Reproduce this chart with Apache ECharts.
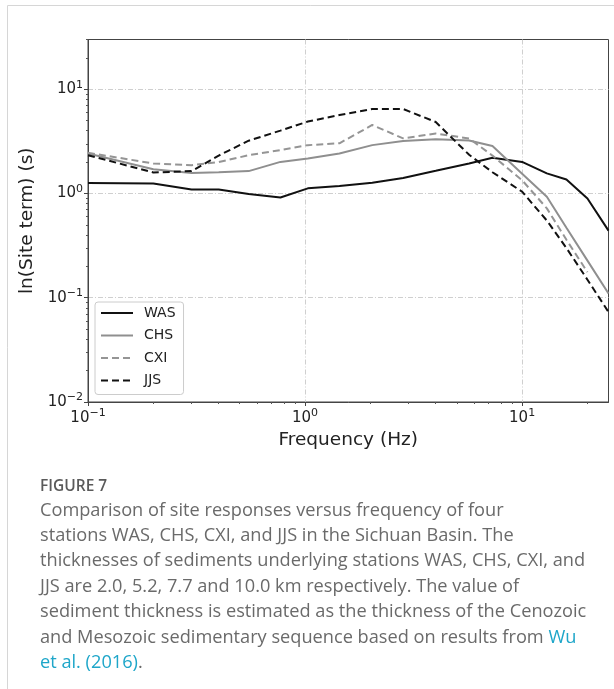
<!DOCTYPE html>
<html>
<head>
<meta charset="utf-8">
<script src="https://cdn.jsdelivr.net/npm/echarts@6/dist/echarts.min.js"></script>
<style>
html,body{margin:0;padding:0;background:#fff;}
#chart{width:614px;height:689px;}
</style>
</head>
<body>
<div id="chart"></div>
<script>
// ---- data ----
const freq = [0.1, 0.2, 0.3, 0.4, 0.55, 0.77, 1.03, 1.44, 2.04, 2.83, 4.0, 5.7, 7.3, 10, 13, 16, 20, 25];
const WAS = [1.26, 1.25, 1.09, 1.09, 0.99, 0.915, 1.12, 1.18, 1.27, 1.41, 1.65, 1.94, 2.2, 2.01, 1.56, 1.36, 0.895, 0.44];
const CHS = [2.42, 1.71, 1.57, 1.60, 1.64, 2.01, 2.17, 2.42, 2.91, 3.18, 3.31, 3.22, 2.85, 1.55, 0.93, 0.47, 0.227, 0.11];
const CXI = [2.46, 1.94, 1.87, 2.0, 2.33, 2.61, 2.91, 3.03, 4.54, 3.38, 3.76, 3.37, 2.31, 1.34, 0.72, 0.36, 0.176, null];
const JJS = [2.33, 1.59, 1.64, 2.31, 3.21, 4.01, 4.9, 5.66, 6.46, 6.46, 4.85, 2.35, 1.6, 1.04, 0.55, 0.30, 0.149, 0.073];
const seriesNames = ['WAS', 'CHS', 'CXI', 'JJS'];
const xMajor = [0.1, 1, 10];
const xMinor = [0.2,0.3,0.4,0.5,0.6,0.7,0.8,0.9,2,3,4,5,6,7,8,9,20];
const yMajor = [0.01, 0.1, 1, 10];
const yMinor = [0.02,0.03,0.04,0.05,0.06,0.07,0.08,0.09,0.2,0.3,0.4,0.5,0.6,0.7,0.8,0.9,2,3,4,5,6,7,8,9,20,30];
const captionTitle = 'FIGURE 7';
const captionLines = [
  'Comparison of site responses versus frequency of four',
  'stations WAS, CHS, CXI, and JJS in the Sichuan Basin. The',
  'thicknesses of sediments underlying stations WAS, CHS, CXI, and',
  'JJS are 2.0, 5.2, 7.7 and 10.0 km respectively. The value of',
  'sediment thickness is estimated as the thickness of the Cenozoic',
  '{g|and Mesozoic sedimentary sequence based on results from }{l|Wu}',
  '{l|et al. (2016)}{g|.}'
];

function pairs(arr){ return freq.map((f,i)=>[f, arr[i]]); }
function powLabel(v){
  const e = Math.round(Math.log10(v));
  if (Math.abs(Math.log10(v) - e) > 1e-6) return '';
  const s = e < 0 ? '\u2212' + Math.abs(e) : String(e);
  return '{b|10}{s|' + s + '}';
}
const richLab = {
  b: {fontSize: 15, fontFamily: 'DejaVu Sans', color: '#222'},
  s: {fontSize: 11, fontFamily: 'DejaVu Sans', color: '#222', padding: [0,0,9,0]}
};
const gridLine = {show: true, lineStyle: {color: '#cfcfcf', width: 1, type: [5,2,1,2]}};

const chart = echarts.init(document.getElementById('chart'), null, {renderer: 'canvas'});

const styles = {
  WAS: {color: '#111', type: 'solid'},
  CHS: {color: '#8f8f8f', type: 'solid'},
  CXI: {color: '#959595', type: [7,4]},
  JJS: {color: '#111', type: [7,4]}
};
const dataMap = {WAS, CHS, CXI, JJS};

const capFont = 'Open Sans';
const captionGraphics = [
  {type:'line', shape:{x1:7.5,y1:5.5,x2:614,y2:5.5}, style:{stroke:'#d6d6d6', lineWidth:1}, silent:true},
  {type:'line', shape:{x1:7.5,y1:5.5,x2:7.5,y2:689}, style:{stroke:'#d6d6d6', lineWidth:1}, silent:true},
  {type:'text', x:40, y:487, style:{text: captionTitle, fill:'#5a5a5a', fontSize:15.5, fontWeight:600, fontFamily:capFont, verticalAlign:'middle'}}
];
captionLines.forEach((t,i)=>{
  captionGraphics.push({type:'text', x:40, y:510.5 + i*25.4, style:{
    text: t, fill:'#6a6a6a', fontSize:18.2, fontFamily:capFont, verticalAlign:'middle',
    rich: {g:{fill:'#6a6a6a', fontSize:18.2, fontFamily:capFont}, l:{fill:'#1ea6c9', fontSize:18.2, fontFamily:capFont}}
  }});
});

chart.setOption({
  animation: false,
  backgroundColor: '#fff',
  grid: {left: 88, top: 39.5, right: 5.5, bottom: 287, show: true, borderColor: '#444', borderWidth: 1, containLabel: false},
  legend: {
    orient: 'vertical', left: 95, top: 302,
    data: seriesNames,
    itemWidth: 32, itemHeight: 14, itemGap: 8.5,
    padding: [4, 8, 7, 5],
    backgroundColor: 'rgba(255,255,255,0.85)',
    borderColor: '#cccccc', borderWidth: 1, borderRadius: 3,
    itemStyle: {opacity: 0},
    textStyle: {fontSize: 14, fontFamily: 'DejaVu Sans', color: '#222', padding: [0,0,0,6]}
  },
  xAxis: [{
    type: 'log', logBase: 10, min: 0.1, max: 25,
    name: 'Frequency (Hz)', nameLocation: 'middle', nameGap: 29,
    nameTextStyle: {fontSize: 18.5, fontFamily: 'DejaVu Sans', color: '#222'},
    axisLine: {show: true, lineStyle: {color: '#444', width: 1}},
    axisTick: {show: true, length: 4, customValues: xMajor, lineStyle: {color: '#444'}},
    axisLabel: {customValues: xMajor, formatter: powLabel, rich: richLab, margin: 6},
    splitLine: gridLine
  }, {
    type: 'log', logBase: 10, min: 0.1, max: 25, gridIndex: 0, position: 'bottom',
    axisLine: {show: false},
    axisTick: {show: true, length: 2, customValues: xMinor, lineStyle: {color: '#555'}},
    axisLabel: {show: false},
    splitLine: {show: false}
  }],
  yAxis: [{
    type: 'log', logBase: 10, min: 0.01, max: 30,
    name: 'ln(Site term) (s)', nameLocation: 'middle', nameGap: 49, nameRotate: 90,
    nameTextStyle: {fontSize: 18.5, fontFamily: 'DejaVu Sans', color: '#222'},
    axisLine: {show: true, lineStyle: {color: '#444', width: 1}},
    axisTick: {show: true, length: 4, customValues: yMajor, lineStyle: {color: '#444'}},
    axisLabel: {customValues: yMajor, formatter: powLabel, rich: richLab, margin: 5},
    splitLine: gridLine
  }, {
    type: 'log', logBase: 10, min: 0.01, max: 30, gridIndex: 0, position: 'left',
    axisLine: {show: false},
    axisTick: {show: true, length: 2, customValues: yMinor, lineStyle: {color: '#555'}},
    axisLabel: {show: false},
    splitLine: {show: false}
  }],
  series: seriesNames.map(n => ({
    name: n, type: 'line', xAxisIndex: 0, yAxisIndex: 0,
    data: pairs(dataMap[n]),
    symbol: 'none', showSymbol: false,
    lineStyle: {color: styles[n].color, width: 2, type: styles[n].type},
    itemStyle: {color: styles[n].color},
    connectNulls: false
  })),
  graphic: captionGraphics
});
</script>
</body>
</html>
